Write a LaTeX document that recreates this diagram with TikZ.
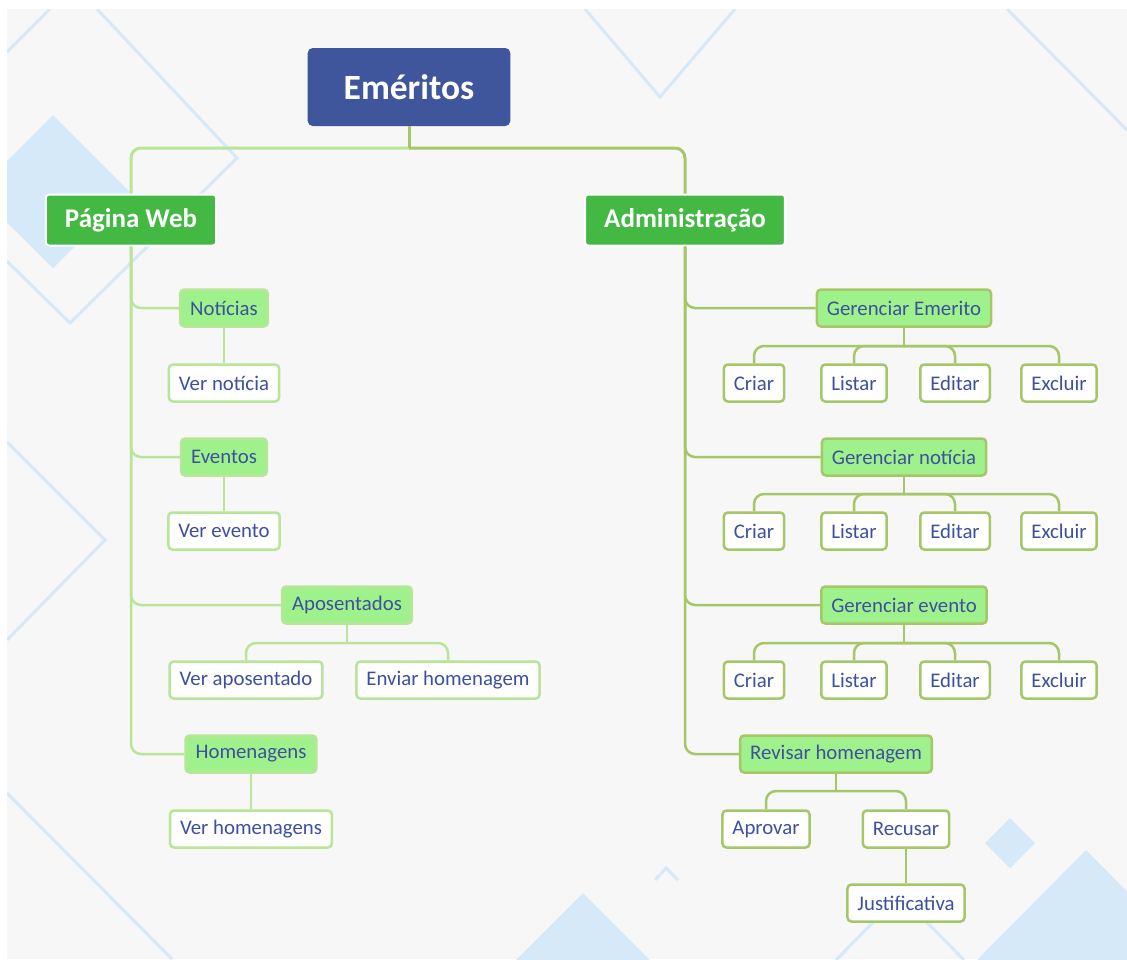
\documentclass[tikz,border=0pt]{standalone}
\usepackage{fontspec}
\setmainfont{Carlito}
\definecolor{rootblue}{HTML}{40569C}
\definecolor{maingreen}{HTML}{43B944}
\definecolor{subfill}{HTML}{9FF28B}
\definecolor{lline}{HTML}{B8E597}
\definecolor{rline}{HTML}{A6C767}
\definecolor{textblue}{HTML}{3D509E}
\definecolor{panel}{HTML}{F7F7F7}
\definecolor{deco}{HTML}{D6E9F8}
\begin{document}
\begin{tikzpicture}[x=1pt,y=-1pt,
    rootbox/.style={rectangle,rounded corners=5pt,fill=rootblue,text=white,
        font=\bfseries\fontsize{35.5}{40}\selectfont,minimum height=78pt,inner xsep=36pt},
    mainbox/.style={rectangle,rounded corners=3pt,fill=maingreen,draw=white,line width=2pt,text=white,
        font=\bfseries\fontsize{27}{30}\selectfont,minimum height=51pt,inner xsep=19pt},
    subl/.style={rectangle,rounded corners=4pt,fill=subfill,draw=lline,line width=2.5pt,text=textblue,
        font=\fontsize{20.8}{24}\selectfont,minimum height=37pt,inner xsep=10pt},
    subr/.style={subl,draw=rline},
    leafl/.style={subl,fill=white},
    leafr/.style={subl,fill=white,draw=rline},
    lconn/.style={draw=lline,line width=2.5pt,rounded corners=10pt},
    rconn/.style={draw=rline,line width=2.5pt,rounded corners=10pt}]

    % background
    \useasboundingbox (0,0) rectangle (1127,959);
    \fill[white] (0,0) rectangle (1127,959);
    \fill[panel] (7,9) rectangle (1127,959);
    \begin{scope}
        \clip (7,9) rectangle (1127,959);
        \fill[deco] (53,115) -- (130,192) -- (53,268) -- (-24,192) -- cycle;
        \fill[deco] (583,893) -- (650,960) -- (516,960) -- cycle;
        \fill[deco] (1010,818) -- (1035,843) -- (1010,868) -- (985,843) -- cycle;
        \fill[deco] (1086,850) -- (1195,960) -- (977,960) -- cycle;
        \draw[deco,line width=3pt] (97,9) -- (237,158) -- (70,323) -- (-30,225);
        \draw[deco,line width=3pt] (50,9) -- (7,52);
        \draw[deco,line width=3pt] (585,9) -- (660,97) -- (735,9);
        \draw[deco,line width=3pt] (1007,9) -- (1127,130);
        \draw[deco,line width=3pt] (7,442) -- (105,540) -- (7,640);
        \draw[deco,line width=3pt] (7,793) -- (172,959);
        \draw[deco,line width=3pt] (655,880) -- (666,868) -- (678,880);
        \draw[deco,line width=3pt] (836,960) -- (900,895) -- (964,960);
    \end{scope}

    % nodes
    \node (root) at (409,87) [rootbox] {Eméritos};
    \node (web) at (131,220) [mainbox] {Página Web};
    \node (adm) at (685,220) [mainbox] {Administração};

    \node (not) at (224,308) [subl] {Notícias};
    \node (vnot) at (224,383) [leafl] {Ver notícia};
    \node (evt) at (224,457) [subl] {Eventos};
    \node (vevt) at (224,531) [leafl] {Ver evento};
    \node (apo) at (347,605) [subl] {Aposentados};
    \node (vapo) at (246,680) [leafl] {Ver aposentado};
    \node (env) at (448,680) [leafl] {Enviar homenagem};
    \node (hom) at (251,754) [subl] {Homenagens};
    \node (vhom) at (251,829) [leafl] {Ver homenagens};

    \node (gem) at (904,308) [subr] {Gerenciar Emerito};
    \node (gemA) at (754,383) [leafr] {Criar};
    \node (gemB) at (854,383) [leafr] {Listar};
    \node (gemC) at (955,383) [leafr] {Editar};
    \node (gemD) at (1059,383) [leafr] {Excluir};
    \node (gnot) at (904,457) [subr] {Gerenciar notícia};
    \node (gnotA) at (754,531) [leafr] {Criar};
    \node (gnotB) at (854,531) [leafr] {Listar};
    \node (gnotC) at (955,531) [leafr] {Editar};
    \node (gnotD) at (1059,531) [leafr] {Excluir};
    \node (gevt) at (904,605) [subr] {Gerenciar evento};
    \node (gevtA) at (754,680) [leafr] {Criar};
    \node (gevtB) at (854,680) [leafr] {Listar};
    \node (gevtC) at (955,680) [leafr] {Editar};
    \node (gevtD) at (1059,680) [leafr] {Excluir};
    \node (rev) at (836,754) [subr] {Revisar homenagem};
    \node (apr) at (766,829) [leafr] {Aprovar};
    \node (rec) at (906,829) [leafr] {Recusar};
    \node (jus) at (906,903) [leafr] {Justificativa};

    % junctions
    \coordinate (rootj) at (409,148);
    \coordinate (apoj) at (347,643);
    \coordinate (gemj) at (904,346);
    \coordinate (gnotj) at (904,494);
    \coordinate (gevtj) at (904,643);
    \coordinate (revj) at (836,791);

    % connectors
    \draw[lconn,line width=3pt] (rootj) -| (web.north);
    \draw[rconn,line width=3pt] (root.south) -- (rootj);
    \draw[rconn,line width=3pt] (rootj) -| (adm.north);

    \draw[lconn] (web.south) |- (not.west);
    \draw[lconn] (web.south) |- (evt.west);
    \draw[lconn] (web.south) |- (apo.west);
    \draw[lconn] (web.south) |- (hom.west);
    \draw[lconn] (not) -- (vnot);
    \draw[lconn] (evt) -- (vevt);
    \draw[lconn] (apo.south) -- (apoj);
    \draw[lconn] (apoj) -| (vapo.north);
    \draw[lconn] (apoj) -| (env.north);
    \draw[lconn] (hom) -- (vhom);

    \draw[rconn] (adm.south) |- (gem.west);
    \draw[rconn] (adm.south) |- (gnot.west);
    \draw[rconn] (adm.south) |- (gevt.west);
    \draw[rconn] (adm.south) |- (rev.west);

    \draw[rconn] (gem.south) -- (gemj);
    \draw[rconn] (gemj) -| (gemA.north);
    \draw[rconn] (gemj) -| (gemB.north);
    \draw[rconn] (gemj) -| (gemC.north);
    \draw[rconn] (gemj) -| (gemD.north);
    \draw[rconn] (gnot.south) -- (gnotj);
    \draw[rconn] (gnotj) -| (gnotA.north);
    \draw[rconn] (gnotj) -| (gnotB.north);
    \draw[rconn] (gnotj) -| (gnotC.north);
    \draw[rconn] (gnotj) -| (gnotD.north);
    \draw[rconn] (gevt.south) -- (gevtj);
    \draw[rconn] (gevtj) -| (gevtA.north);
    \draw[rconn] (gevtj) -| (gevtB.north);
    \draw[rconn] (gevtj) -| (gevtC.north);
    \draw[rconn] (gevtj) -| (gevtD.north);
    \draw[rconn] (rev.south) -- (revj);
    \draw[rconn] (revj) -| (apr.north);
    \draw[rconn] (revj) -| (rec.north);
    \draw[rconn] (rec) -- (jus);
\end{tikzpicture}
\end{document}
